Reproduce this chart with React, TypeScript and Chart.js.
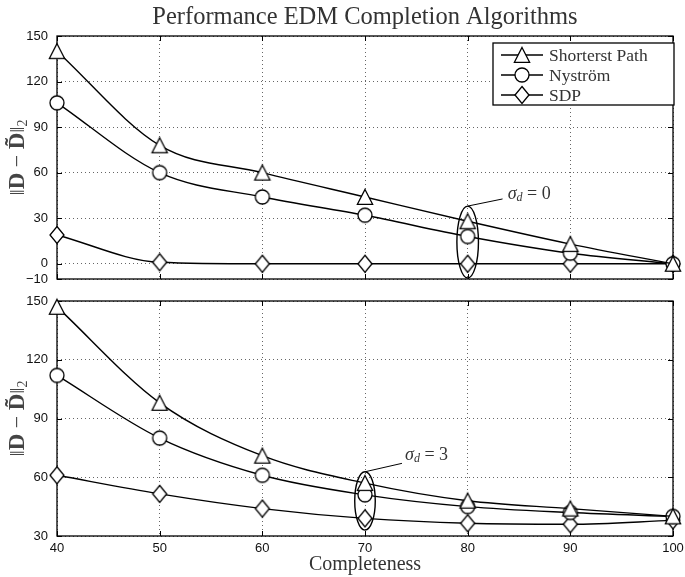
import React, { useEffect, useRef } from "react";
import { Chart, registerables } from "chart.js";
Chart.register(...registerables);

// ---------- data ----------
const completeness = [40, 50, 60, 70, 80, 90, 100];
const seriesLabels = ["Shorterst Path", "Nyström", "SDP"];

const topShortestPath = [140, 78, 60, 44, 28, 13, 0];
const topNystrom = [106, 60, 44, 32, 18, 7, 0];
const topSDP = [19, 1, 0, 0, 0, 0, 0];

const bottomShortestPath = [147, 98, 71, 57, 48, 44, 40];
const bottomNystrom = [112, 80, 61, 51, 45, 42, 40];
const bottomSDP = [61, 51.5, 44, 39, 36.5, 36, 38];

const xTickValues = [40, 50, 60, 70, 80, 90, 100];
const topYTicks = [-10, 0, 30, 60, 90, 120, 150];
const bottomYTicks = [30, 60, 90, 120, 150];

const TITLE = "Performance EDM Completion Algorithms";
const X_TITLE = "Completeness";

// annotation ellipses (data units)
const topNote = { x: 80, dx: 1.05, yMin: -9.3, yMax: 38, sigma: "0", lineX: 83.4, lineY: 42.7, textX: 83.9, textY: 46 };
const bottomNote = { x: 70, dx: 1.0, yMin: 33, yMax: 62.8, sigma: "3", lineX: 73.6, lineY: 67.1, textX: 73.9, textY: 71.4 };

// ---------- helpers ----------
function makeMarker(kind: string): HTMLCanvasElement {
  const c = document.createElement("canvas");
  c.width = 20;
  c.height = 20;
  const g = c.getContext("2d")!;
  g.fillStyle = "#fff";
  g.strokeStyle = "#000";
  g.lineWidth = 1.3;
  g.beginPath();
  if (kind === "triangle") {
    g.moveTo(10, 2.5);
    g.lineTo(17.6, 17.3);
    g.lineTo(2.4, 17.3);
    g.closePath();
  } else if (kind === "circle") {
    g.arc(10, 10, 7, 0, Math.PI * 2);
  } else {
    g.moveTo(10, 1.5);
    g.lineTo(17, 10);
    g.lineTo(10, 18.5);
    g.lineTo(3, 10);
    g.closePath();
  }
  g.fill();
  g.stroke();
  return c;
}

const FONT_SANS = '"Liberation Sans", Arial, sans-serif';
const FONT_SERIF = '"Liberation Serif", "Times New Roman", serif';
const TEXT = "#333";

function framePlugin() {
  return {
    id: "frame",
    beforeDatasetsDraw(chart: any) {
      const { ctx, chartArea: a } = chart;
      const xs = chart.scales.x;
      const ys = chart.scales.y;
      ctx.save();
      ctx.strokeStyle = "#000";
      ctx.lineWidth = 1;
      ctx.beginPath();
      xs.ticks.forEach((t: any) => {
        const p = Math.round(xs.getPixelForValue(t.value)) + 0.5;
        ctx.moveTo(p, a.bottom);
        ctx.lineTo(p, a.bottom - 5);
        ctx.moveTo(p, a.top);
        ctx.lineTo(p, a.top + 5);
      });
      ys.ticks.forEach((t: any) => {
        const p = Math.round(ys.getPixelForValue(t.value)) + 0.5;
        ctx.moveTo(a.left, p);
        ctx.lineTo(a.left + 5, p);
        ctx.moveTo(a.right, p);
        ctx.lineTo(a.right - 5, p);
      });
      ctx.stroke();
      ctx.lineWidth = 1.3;
      ctx.strokeRect(a.left, a.top, a.right - a.left, a.bottom - a.top);
      ctx.restore();
    },
  };
}

function yTitlePlugin() {
  return {
    id: "ytitle",
    afterDraw(chart: any) {
      const { ctx, chartArea: a } = chart;
      const cy = (a.top + a.bottom) / 2;
      const cx = 17.5;
      const parts = [
        { t: "\u2016", f: `22px ${FONT_SERIF}`, dy: 0 },
        { t: "D", f: `bold 23px ${FONT_SERIF}`, dy: 0 },
        { t: " \u2212 ", f: `22px ${FONT_SERIF}`, dy: 0 },
        { t: "D\u0303", f: `bold 23px ${FONT_SERIF}`, dy: 0 },
        { t: "\u2016", f: `22px ${FONT_SERIF}`, dy: 0 },
        { t: "2", f: `14px ${FONT_SERIF}`, dy: 5 },
      ];
      ctx.save();
      let total = 0;
      parts.forEach((p) => {
        ctx.font = p.f;
        total += ctx.measureText(p.t).width;
      });
      ctx.translate(cx, cy);
      ctx.rotate(-Math.PI / 2);
      ctx.fillStyle = "#444";
      ctx.textBaseline = "middle";
      ctx.textAlign = "left";
      let x = -total / 2;
      parts.forEach((p) => {
        ctx.font = p.f;
        ctx.fillText(p.t, x, p.dy + 1);
        x += ctx.measureText(p.t).width;
      });
      ctx.restore();
    },
  };
}

function notePlugin(note: any) {
  return {
    id: "note",
    afterDatasetsDraw(chart: any) {
      const { ctx } = chart;
      const xs = chart.scales.x;
      const ys = chart.scales.y;
      const cx = xs.getPixelForValue(note.x);
      const rx = xs.getPixelForValue(note.x + note.dx) - cx;
      const yT = ys.getPixelForValue(note.yMax);
      const yB = ys.getPixelForValue(note.yMin);
      ctx.save();
      ctx.strokeStyle = "#000";
      ctx.lineWidth = 1.4;
      ctx.beginPath();
      ctx.ellipse(cx, (yT + yB) / 2, rx, (yB - yT) / 2, 0, 0, Math.PI * 2);
      ctx.stroke();
      ctx.lineWidth = 1;
      ctx.beginPath();
      ctx.moveTo(cx, yT);
      ctx.lineTo(xs.getPixelForValue(note.lineX), ys.getPixelForValue(note.lineY));
      ctx.stroke();
      let tx = xs.getPixelForValue(note.textX);
      const ty = ys.getPixelForValue(note.textY);
      ctx.fillStyle = TEXT;
      ctx.textBaseline = "middle";
      ctx.textAlign = "left";
      ctx.font = `italic 18px ${FONT_SERIF}`;
      ctx.fillText("\u03c3", tx, ty);
      tx += ctx.measureText("\u03c3").width;
      ctx.font = `italic 12px ${FONT_SERIF}`;
      ctx.fillText("d", tx, ty + 4);
      tx += ctx.measureText("d").width;
      ctx.font = `18px ${FONT_SERIF}`;
      ctx.fillText(" = " + note.sigma, tx, ty);
      ctx.restore();
    },
  };
}

function titlePlugin() {
  return {
    id: "ptitle",
    afterDraw(chart: any) {
      const { ctx, chartArea: a } = chart;
      ctx.save();
      ctx.fillStyle = TEXT;
      ctx.font = `24.5px ${FONT_SERIF}`;
      ctx.textAlign = "center";
      ctx.textBaseline = "middle";
      ctx.fillText(TITLE, (a.left + a.right) / 2, 18);
      ctx.restore();
    },
  };
}

function legendPlugin() {
  return {
    id: "mlegend",
    afterDatasetsDraw(chart: any) {
      const { ctx, chartArea: a } = chart;
      const w = 181;
      const h = 62;
      const right = a.right + 1;
      const top = a.top + 7;
      const left = right - w;
      ctx.save();
      ctx.fillStyle = "#fff";
      ctx.fillRect(left, top, w, h);
      ctx.strokeStyle = "#000";
      ctx.lineWidth = 1.3;
      ctx.strokeRect(left, top, w, h);
      chart.data.datasets.forEach((ds: any, i: number) => {
        const y = top + 12 + i * 20;
        ctx.beginPath();
        ctx.lineWidth = 1.4;
        ctx.moveTo(left + 8, y);
        ctx.lineTo(left + 50, y);
        ctx.stroke();
        const m = ds.pointStyle;
        ctx.drawImage(m, left + 29 - m.width / 2, y - m.height / 2);
        ctx.fillStyle = TEXT;
        ctx.font = `17.5px ${FONT_SERIF}`;
        ctx.textBaseline = "middle";
        ctx.textAlign = "left";
        ctx.fillText(ds.label, left + 56, y + 1);
      });
      ctx.restore();
    },
  };
}

function makeDatasets(series: number[][], markers: HTMLCanvasElement[]) {
  return series.map((vals, i) => ({
    label: seriesLabels[i],
    data: completeness.map((x, j) => ({ x, y: vals[j] })),
    borderColor: "#000",
    borderWidth: 1.4,
    backgroundColor: "#fff",
    pointStyle: markers[i],
    pointRadius: 8,
    pointHoverRadius: 8,
    cubicInterpolationMode: "monotone" as const,
    fill: false,
    clip: false as any,
  }));
}

function gridOpts() {
  return { color: "rgba(0,0,0,0.6)", lineWidth: 1, drawTicks: false };
}

function buildConfig(which: "top" | "bottom", markers: HTMLCanvasElement[]): any {
  const isTop = which === "top";
  const series = isTop
    ? [topShortestPath, topNystrom, topSDP]
    : [bottomShortestPath, bottomNystrom, bottomSDP];
  const yTicks = isTop ? topYTicks : bottomYTicks;
  const plugins: any[] = [framePlugin(), yTitlePlugin(), notePlugin(isTop ? topNote : bottomNote)];
  if (isTop) plugins.push(titlePlugin(), legendPlugin());
  return {
    type: "line",
    data: { datasets: makeDatasets(series, markers) },
    plugins,
    options: {
      responsive: false,
      animation: false,
      events: [],
      layout: { padding: { top: isTop ? 36 : 11, right: 12, left: 0, bottom: 0 } },
      plugins: { legend: { display: false }, tooltip: { enabled: false }, title: { display: false } },
      scales: {
        x: {
          type: "linear",
          min: 40,
          max: 100,
          afterBuildTicks: (s: any) => {
            s.ticks = xTickValues.map((v) => ({ value: v }));
          },
          ticks: {
            display: !isTop,
            padding: 5,
            color: "#111",
            font: { family: FONT_SANS, size: 13 },
            maxRotation: 0,
            autoSkip: false,
          },
          grid: gridOpts(),
          border: { display: false, dash: [1, 3] },
          title: {
            display: !isTop,
            text: X_TITLE,
            color: TEXT,
            font: { family: FONT_SERIF, size: 20 },
            padding: { top: 0, bottom: 0 },
          },
          afterFit: (s: any) => {
            s.height = isTop ? 11 : 41;
            s.paddingLeft = 0;
            s.paddingRight = 0;
          },
        },
        y: {
          type: "linear",
          min: yTicks[0],
          max: yTicks[yTicks.length - 1],
          afterBuildTicks: (s: any) => {
            s.ticks = yTicks.map((v) => ({ value: v }));
          },
          ticks: {
            padding: 9,
            color: "#111",
            font: { family: FONT_SANS, size: 13 },
            callback: (v: any) => String(v).replace("-", "\u2212"),
          },
          grid: gridOpts(),
          border: { display: false, dash: [1, 3] },
          afterFit: (s: any) => {
            s.width = 57;
            s.paddingTop = 0;
            s.paddingBottom = 0;
          },
        },
      },
    },
  };
}

export default function App() {
  const topRef = useRef<HTMLCanvasElement | null>(null);
  const botRef = useRef<HTMLCanvasElement | null>(null);

  useEffect(() => {
    const markers = [makeMarker("triangle"), makeMarker("circle"), makeMarker("diamond")];
    const c1 = new Chart(topRef.current!, buildConfig("top", markers));
    const c2 = new Chart(botRef.current!, buildConfig("bottom", markers));
    return () => {
      c1.destroy();
      c2.destroy();
    };
  }, []);

  return (
    <div style={{ position: "fixed", left: 0, top: 0, width: 685, height: 577, background: "#fff" }}>
      <canvas ref={topRef} width={685} height={290} style={{ position: "absolute", left: 0, top: 0, display: "block" }} />
      <canvas ref={botRef} width={685} height={287} style={{ position: "absolute", left: 0, top: 290, display: "block" }} />
    </div>
  );
}
